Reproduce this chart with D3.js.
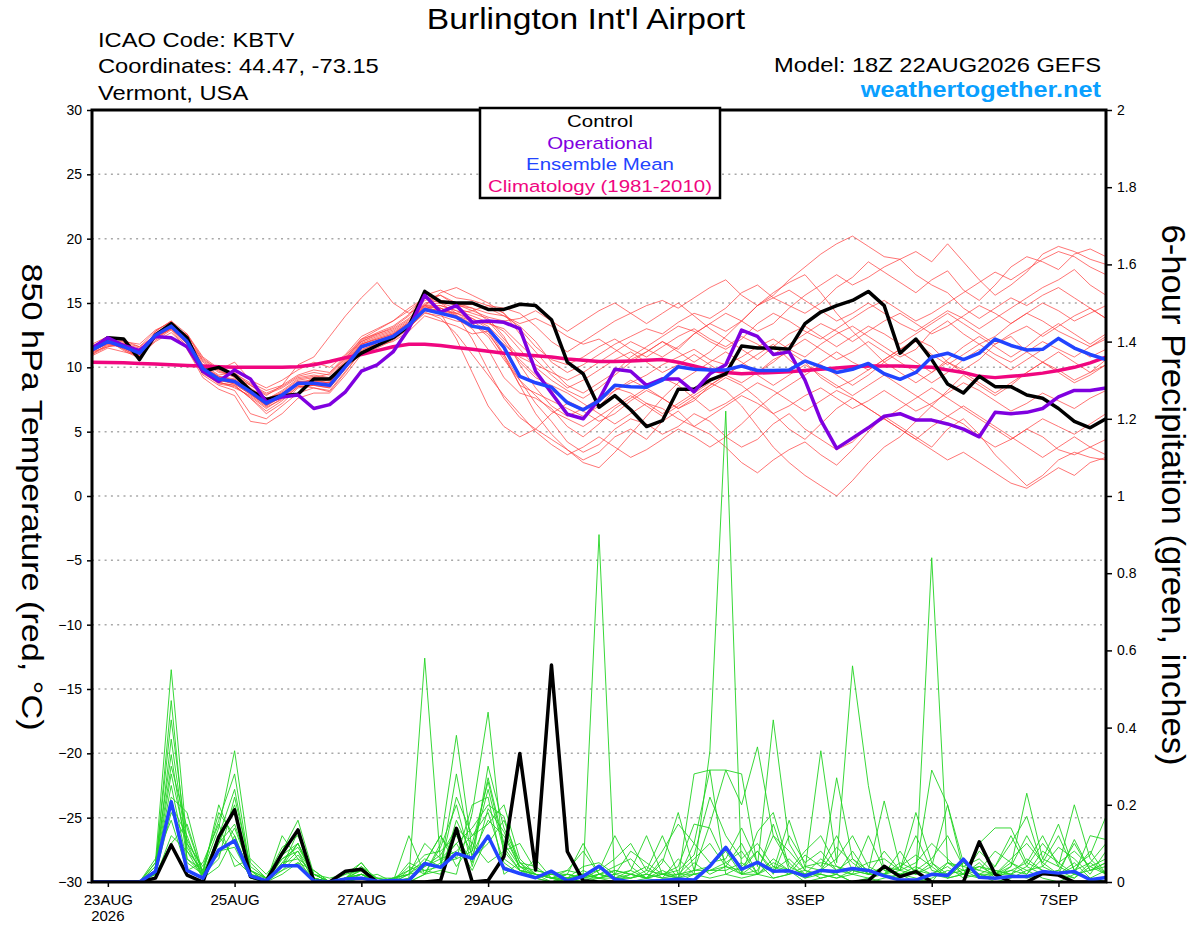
<!DOCTYPE html>
<html>
<head>
<meta charset="utf-8">
<script src="https://cdn.jsdelivr.net/npm/d3@7"></script>
<style>
body { margin: 0; background: #fff; }
text { font-family: "Liberation Sans", Arial, Helvetica, sans-serif; }
</style>
</head>
<body>
<div id="chart"></div>
<script>
var width = 1200;
var height = 927;

// run start: 18Z 22AUG2026, 6-hourly steps
var runStart = Date.UTC(2026, 7, 22, 18);
var stepHours = 6;

var dateTicks = ["2026-08-23", "2026-08-25", "2026-08-27", "2026-08-29", "2026-09-01", "2026-09-03", "2026-09-05", "2026-09-07"];
var tempTicks = [30, 25, 20, 15, 10, 5, 0, -5, -10, -15, -20, -25, -30];
var tempGrid = [25, 20, 15, 10, 5, 0, -5, -10, -15, -20, -25];
var precipTicks = [0, 0.2, 0.4, 0.6, 0.8, 1, 1.2, 1.4, 1.6, 1.8, 2];

var legendNames = ["Control", "Operational", "Ensemble Mean", "Climatology (1981-2010)"];

// 850 hPa temperature (C)
var tempControl = [11.4, 12.3, 12.2, 10.6, 12.5, 13.4, 12.3, 9.7, 10.0, 9.4,
    8.2, 7.5, 7.8, 7.9, 9.1, 9.1, 10.2, 11.1, 11.7, 12.3,
    13.2, 15.9, 15.1, 15.0, 15.0, 14.5, 14.5, 14.9, 14.8, 13.7,
    10.4, 9.5, 6.9, 7.8, 6.7, 5.4, 5.85, 8.3, 8.3, 9.0,
    9.5, 11.65, 11.5, 11.5, 11.4, 13.4, 14.3, 14.8, 15.2, 15.9,
    14.8, 11.1, 12.2, 10.6, 8.7, 8.0, 9.3, 8.5, 8.5, 7.85,
    7.6, 6.8, 5.8, 5.3, 6.0];

var tempOper = [11.5, 12.3, 11.7, 11.3, 12.4, 12.3, 11.6, 9.7, 8.9, 9.8,
    9.1, 7.3, 7.7, 7.85, 6.8, 7.1, 8.1, 9.7, 10.2, 11.2,
    13.0, 15.6, 14.3, 14.8, 13.5, 13.6, 13.5, 13.0, 9.7, 8.0,
    6.35, 6.0, 7.5, 9.85, 9.7, 8.6, 9.1, 9.1, 8.1, 9.5,
    10.2, 12.9, 12.4, 11.0, 11.2, 9.0, 5.9, 3.7, 4.5, 5.3,
    6.2, 6.4, 5.9, 5.9, 5.6, 5.2, 4.6, 6.5, 6.4, 6.5,
    6.8, 7.7, 8.2, 8.2, 8.4];

var tempMean = [11.35, 12.0, 11.6, 11.1, 12.5, 13.2, 12.0, 9.9, 9.1, 8.9,
    8.1, 7.2, 7.85, 8.76, 8.76, 8.6, 10.05, 11.6, 12.0, 12.4,
    13.3, 14.5, 14.2, 13.9, 13.2, 13.0, 11.55, 9.3, 8.8, 8.45,
    7.25, 6.7, 7.4, 8.6, 8.5, 8.45, 9.0, 10.05, 9.85, 9.8,
    9.8, 10.1, 9.75, 9.75, 9.8, 10.5, 10.05, 9.6, 9.85, 10.3,
    9.5, 9.07, 9.6, 10.8, 11.1, 10.6, 11.1, 12.2, 11.7, 11.35,
    11.4, 12.25, 11.5, 11.0, 10.6];

var tempClim = [10.4, 10.38, 10.35, 10.3, 10.25, 10.2, 10.15, 10.1, 10.05, 10.0,
    10.0, 10.0, 10.0, 10.05, 10.2, 10.45, 10.75, 11.0, 11.3, 11.6,
    11.8, 11.8, 11.7, 11.55, 11.4, 11.25, 11.1, 11.0, 10.9, 10.8,
    10.65, 10.55, 10.45, 10.45, 10.5, 10.55, 10.6, 10.4, 10.1, 9.8,
    9.6, 9.5, 9.55, 9.6, 9.65, 9.75, 9.85, 9.95, 10.05, 10.1,
    10.1, 10.1, 10.05, 10.0, 9.8, 9.6, 9.3, 9.2, 9.3, 9.4,
    9.55, 9.75, 10.0, 10.35, 10.8];

var tempMembers = [
  [11.0, 11.8, 11.9, 11.3, 12.6, 13.4, 12.3, 10.4, 9.6, 9.4,
   8.4, 7.6, 8.0, 8.6, 9.2, 9.5, 10.8, 12.0, 12.6, 13.0,
   13.8, 15.2, 15.6, 15.0, 14.6, 14.2, 14.0, 13.2, 12.0, 10.4,
   9.6, 10.2, 11.0, 11.8, 12.4, 13.0, 12.6, 13.5, 14.2, 13.8,
   14.6, 15.8, 16.4, 15.4, 14.8, 14.2, 15.0, 16.2, 17.0, 18.2,
   17.4, 16.6, 15.8, 16.8, 17.5, 16.0, 15.2, 16.4, 17.8, 18.6,
   18.2, 17.6, 18.8, 19.2, 18.6],
  [11.6, 12.3, 11.4, 10.8, 12.1, 12.9, 11.4, 9.2, 8.3, 7.8,
   5.8, 5.6, 6.4, 7.6, 8.0, 8.0, 9.4, 11.0, 11.5, 12.1,
   13.0, 14.4, 14.6, 14.1, 12.2, 9.8, 7.6, 6.1, 5.2, 4.4,
   3.6, 2.8, 3.4, 4.6, 5.2, 4.4, 5.8, 6.6, 5.4, 4.8,
   3.8, 2.6, 1.8, 2.8, 3.6, 4.2, 3.2, 2.4, 3.6, 5.0,
   6.2, 5.4, 4.6, 3.8, 5.2, 6.0, 4.8, 3.2, 2.0, 0.8,
   1.6, 2.8, 3.4, 3.0, 2.8],
  [11.2, 11.6, 11.8, 11.5, 12.2, 13.0, 12.6, 10.8, 9.9, 9.5,
   8.8, 8.2, 8.6, 9.4, 9.8, 9.6, 10.9, 12.2, 12.9, 13.6,
   14.4, 15.4, 15.2, 14.8, 14.9, 14.6, 14.0, 13.4, 13.8, 13.2,
   12.4, 11.8, 12.2, 11.4, 10.6, 11.2, 12.0, 11.4, 12.6, 13.4,
   12.8, 13.6, 14.8, 15.6, 16.8, 17.8, 18.8, 19.6, 20.2, 19.4,
   18.6, 18.4, 17.2, 16.4, 15.8, 14.6, 13.8, 14.6, 15.4, 14.8,
   15.6, 16.2, 15.4, 14.6, 13.8],
  [11.8, 12.4, 11.7, 10.6, 12.8, 13.6, 12.1, 9.6, 8.7, 8.5,
   7.7, 6.8, 7.6, 8.6, 8.4, 8.2, 9.7, 11.2, 11.7, 12.0,
   12.8, 14.0, 13.6, 13.2, 12.6, 12.8, 10.8, 8.6, 8.0, 7.4,
   6.8, 6.2, 7.0, 8.2, 8.8, 9.4, 10.2, 10.8, 11.4, 10.6,
   10.2, 10.8, 11.6, 12.2, 11.4, 10.8, 11.8, 12.6, 13.2, 12.4,
   11.6, 10.8, 11.4, 12.8, 13.6, 12.6, 11.8, 12.4, 13.4, 14.2,
   13.6, 12.8, 12.2, 11.6, 12.4],
  [11.4, 11.9, 11.5, 11.0, 12.4, 13.1, 11.8, 9.8, 9.0, 8.8,
   8.0, 7.0, 7.8, 8.9, 8.9, 8.8, 10.2, 11.8, 12.2, 12.6,
   13.5, 14.8, 14.2, 12.2, 9.6, 7.0, 5.4, 4.6, 5.2, 6.4,
   7.2, 6.6, 5.8, 6.4, 7.4, 8.2, 7.6, 6.8, 7.4, 8.6,
   9.4, 8.8, 9.6, 10.6, 11.2, 10.4, 9.2, 8.4, 9.0, 9.8,
   10.6, 11.4, 12.2, 11.6, 10.4, 9.8, 10.6, 11.8, 12.4, 11.2,
   10.4, 9.6, 8.8, 9.4, 10.2],
  [11.3, 12.1, 12.0, 11.8, 12.9, 13.5, 12.4, 10.2, 9.4, 9.6,
   8.6, 7.8, 8.6, 10.2, 10.8, 12.4, 14.0, 15.4, 16.6, 15.0,
   14.2, 14.8, 15.8, 16.2, 15.6, 15.0, 14.2, 12.6, 11.2, 9.8,
   8.6, 8.0, 8.8, 9.6, 10.8, 11.6, 12.4, 13.2, 12.8, 12.0,
   11.4, 12.2, 13.4, 14.2, 13.6, 12.8, 12.2, 13.0, 13.8, 14.6,
   15.2, 14.4, 13.6, 14.2, 15.0, 15.8, 16.6, 17.4, 16.8, 17.6,
   18.4, 19.0, 18.6, 17.8, 17.2],
  [10.9, 11.5, 11.2, 10.9, 12.0, 12.7, 11.5, 9.4, 8.6, 8.2,
   6.4, 6.0, 7.0, 8.0, 8.4, 8.1, 9.6, 11.3, 11.9, 12.3,
   13.1, 14.2, 14.0, 13.6, 13.4, 12.6, 11.0, 9.0, 7.2, 5.8,
   4.2, 3.4, 4.0, 5.2, 6.0, 5.6, 4.8, 5.4, 6.4, 5.8,
   4.6, 3.8, 4.4, 5.6, 6.4, 5.2, 4.4, 3.6, 4.2, 5.4,
   6.0, 5.2, 4.4, 5.4, 6.2, 5.6, 4.6, 3.8, 4.4, 5.2,
   4.6, 3.6, 3.2, 3.8, 4.4],
  [11.5, 12.2, 11.8, 11.2, 12.7, 13.3, 12.2, 10.0, 9.2, 9.0,
   8.2, 7.4, 8.1, 9.0, 9.2, 8.9, 10.4, 11.9, 12.4, 12.8,
   13.6, 14.9, 15.0, 14.6, 14.2, 13.8, 12.4, 10.2, 8.4, 7.0,
   6.2, 6.8, 7.6, 8.4, 8.0, 7.2, 6.4, 7.2, 8.0, 8.8,
   8.2, 7.0, 5.4, 3.8, 2.6, 1.6, 0.8, 0.0, 1.2, 2.6,
   3.8, 4.6, 5.8, 7.0, 8.2, 9.4, 8.6, 7.8, 8.6, 9.6,
   10.4, 9.8, 9.0, 9.6, 10.6],
  [11.1, 11.7, 11.6, 11.4, 12.3, 13.0, 12.2, 10.6, 9.8, 9.2,
   8.6, 7.9, 8.4, 9.2, 9.4, 9.2, 10.6, 12.1, 12.7, 13.2,
   14.1, 15.6, 16.0, 15.4, 15.2, 14.8, 14.6, 14.2, 13.2, 12.0,
   11.2, 12.0, 12.8, 13.6, 14.2, 14.8, 15.2, 14.6, 15.4, 16.2,
   16.8, 15.6, 14.8, 15.4, 16.0, 15.2, 14.4, 13.6, 14.2, 15.0,
   14.2, 13.4, 12.8, 13.6, 14.4, 13.8, 13.0, 13.8, 14.6, 15.4,
   16.2, 16.8, 17.6, 16.4, 15.6],
  [11.7, 12.1, 11.3, 10.7, 12.3, 13.0, 11.6, 9.5, 8.8, 8.6,
   7.6, 6.4, 7.2, 8.4, 8.6, 8.4, 9.9, 11.4, 11.8, 12.2,
   13.2, 14.4, 14.2, 13.8, 13.0, 11.4, 9.2, 8.0, 7.6, 6.8,
   5.4, 4.6, 5.6, 6.8, 7.6, 8.4, 9.2, 8.6, 7.6, 6.6,
   7.2, 8.0, 8.8, 8.2, 7.4, 6.6, 7.4, 8.2, 7.6, 6.8,
   6.0, 5.2, 4.4, 3.6, 2.8, 3.4, 2.6, 1.8, 1.0, 0.6,
   1.4, 2.2, 1.6, 2.6, 3.0],
  [11.0, 11.6, 11.9, 11.6, 12.5, 13.2, 12.5, 10.7, 9.8, 10.4,
   9.0, 8.4, 9.0, 9.8, 10.4, 10.0, 11.0, 12.4, 13.0, 13.6,
   14.6, 15.4, 15.0, 14.2, 14.4, 14.8, 14.2, 13.0, 11.6, 10.6,
   10.2, 10.8, 11.6, 12.2, 11.4, 10.8, 11.6, 12.4, 13.0, 12.2,
   11.6, 12.4, 11.8, 11.0, 11.8, 12.6, 13.4, 12.8, 12.0, 12.8,
   13.6, 14.2, 13.4, 12.6, 13.2, 14.0, 14.8, 14.2, 13.4, 14.2,
   15.0, 14.4, 13.6, 14.2, 14.8],
  [11.4, 12.0, 11.4, 10.8, 12.4, 13.0, 11.8, 9.7, 8.9, 8.4,
   7.8, 6.9, 7.5, 8.5, 8.6, 8.5, 10.0, 11.5, 12.1, 12.5,
   13.4, 14.6, 14.8, 14.4, 13.8, 13.2, 12.0, 10.4, 9.2, 8.6,
   8.0, 7.2, 6.4, 5.6, 6.4, 7.2, 6.8, 6.0, 5.4, 6.2,
   7.0, 7.8, 7.2, 6.4, 7.0, 7.8, 8.4, 7.6, 6.8, 7.4,
   8.2, 7.4, 6.6, 7.2, 8.0, 8.8, 8.2, 7.4, 6.6, 7.2,
   8.0, 7.4, 6.8, 7.6, 8.2],
  [11.2, 11.9, 12.1, 11.6, 12.8, 13.6, 12.6, 10.5, 9.7, 9.3,
   8.7, 8.0, 8.5, 9.3, 9.6, 9.4, 10.7, 12.2, 12.6, 13.1,
   14.0, 15.4, 15.6, 14.8, 14.6, 13.6, 12.2, 10.8, 10.2, 9.6,
   9.0, 9.6, 10.4, 11.2, 12.0, 11.4, 10.8, 11.6, 12.6, 13.4,
   14.2, 13.6, 12.8, 13.4, 14.6, 15.6, 16.4, 17.2, 16.4, 17.0,
   17.8, 18.4, 19.0, 18.2, 19.6, 18.2, 16.8, 15.6, 16.4, 17.4,
   18.8, 19.4, 19.0, 18.4, 18.0],
  [11.6, 12.2, 11.5, 11.0, 12.6, 13.4, 11.9, 9.8, 9.1, 8.7,
   7.9, 7.1, 7.7, 8.7, 8.7, 8.7, 10.1, 11.7, 12.0, 12.4,
   13.2, 14.6, 14.4, 14.0, 13.6, 13.4, 13.0, 11.8, 10.6, 9.4,
   8.4, 9.0, 9.8, 10.6, 11.2, 10.4, 9.6, 10.2, 11.0, 10.2,
   9.4, 10.2, 11.0, 11.8, 10.6, 9.6, 10.4, 11.2, 10.4, 9.8,
   10.6, 11.4, 12.0, 11.0, 10.2, 11.0, 11.8, 11.0, 10.4, 11.2,
   12.0, 11.4, 10.8, 11.6, 12.2],
  [11.3, 11.8, 11.6, 11.2, 12.4, 13.2, 12.0, 10.0, 9.3, 9.0,
   8.2, 7.3, 7.9, 8.8, 8.9, 8.8, 10.3, 11.8, 12.2, 12.6,
   13.4, 14.8, 14.6, 14.2, 13.8, 13.0, 11.0, 8.6, 6.4, 4.8,
   3.6, 2.6, 2.2, 3.4, 4.8, 6.2, 7.6, 8.8, 9.6, 10.4,
   11.2, 10.4, 9.6, 10.4, 11.4, 12.2, 11.4, 10.6, 11.2, 12.0,
   11.2, 10.4, 9.6, 8.8, 9.6, 10.6, 11.4, 10.6, 9.8, 10.6,
   11.4, 12.2, 11.6, 10.8, 11.4],
  [11.5, 12.0, 11.5, 10.9, 12.5, 13.1, 11.8, 9.9, 9.0, 8.8,
   8.0, 7.1, 7.8, 8.8, 8.8, 8.6, 10.1, 11.6, 12.0, 12.4,
   13.3, 14.6, 14.4, 14.2, 13.6, 12.8, 11.8, 10.6, 9.4, 8.2,
   7.4, 6.8, 7.4, 8.2, 9.0, 8.4, 7.6, 6.8, 7.6, 8.4,
   9.2, 8.6, 7.6, 6.4, 5.2, 4.4, 5.6, 6.8, 7.6, 6.8,
   6.0, 6.8, 7.6, 8.4, 7.6, 6.8, 6.0, 5.2, 4.4, 5.2,
   6.0, 5.4, 4.8, 5.6, 6.4],
  [11.2, 11.9, 11.7, 11.2, 12.5, 13.3, 12.1, 10.1, 9.3, 9.1,
   8.3, 7.5, 8.2, 9.1, 9.3, 9.1, 10.5, 12.0, 12.5, 12.9,
   13.7, 15.0, 15.2, 14.9, 14.4, 13.9, 13.6, 13.8, 14.4, 13.6,
   12.8, 13.6, 14.4, 15.0, 14.2, 13.4, 14.2, 15.0, 14.0, 13.0,
   12.2, 11.4, 10.6, 11.6, 12.6, 13.2, 12.4, 11.6, 12.4, 13.2,
   12.6, 11.8, 12.6, 13.4, 14.2, 13.4, 12.6, 11.8, 12.6, 13.2,
   12.4, 13.2, 14.0, 14.6, 13.8],
  [11.6, 12.1, 11.6, 11.0, 12.6, 13.3, 11.9, 9.6, 8.8, 8.6,
   7.6, 6.6, 7.4, 8.5, 8.6, 8.4, 9.9, 11.5, 12.0, 12.3,
   13.1, 14.3, 13.8, 12.6, 11.0, 9.4, 7.8, 6.4, 5.0, 4.0,
   3.2, 3.8, 4.6, 3.8, 3.0, 3.6, 4.4, 5.2, 4.6, 3.8,
   4.6, 5.6, 6.8, 7.8, 8.6, 9.4, 10.2, 9.4, 8.6, 9.4,
   10.4, 11.2, 10.4, 9.6, 10.6, 11.6, 12.4, 11.6, 10.8, 11.6,
   12.6, 13.4, 12.6, 11.8, 12.6],
  [11.3, 12.0, 11.8, 11.3, 12.6, 13.3, 12.2, 10.1, 9.2, 9.0,
   8.2, 7.3, 8.0, 8.9, 9.0, 8.8, 10.3, 11.8, 12.3, 12.7,
   13.5, 14.8, 14.8, 14.4, 14.0, 13.5, 12.8, 11.4, 10.0, 9.0,
   8.2, 7.6, 8.4, 9.4, 10.4, 11.2, 12.0, 11.2, 10.4, 11.2,
   12.4, 13.6, 14.8, 15.8, 16.6, 17.2, 15.8, 14.2, 12.8, 11.6,
   10.4, 9.6, 8.8, 9.6, 10.4, 9.6, 8.8, 8.0, 8.8, 9.6,
   10.4, 11.2, 10.4, 9.6, 10.2],
  [11.4, 12.1, 11.6, 11.0, 12.4, 13.1, 11.9, 9.8, 9.0, 8.7,
   7.9, 7.0, 7.7, 8.7, 8.8, 8.6, 10.1, 11.6, 12.1, 12.5,
   13.4, 14.7, 14.6, 14.0, 13.4, 12.4, 10.6, 9.0, 7.8, 6.6,
   6.0, 5.4, 6.2, 7.0, 7.8, 7.0, 6.2, 7.0, 7.8, 8.6,
   9.4, 10.2, 9.4, 8.6, 9.4, 10.2, 9.4, 8.6, 7.8, 8.6,
   9.4, 8.6, 7.8, 7.0, 6.2, 7.0, 6.2, 5.4, 4.6, 3.8,
   3.0, 3.8, 4.6, 3.8, 3.2]
];

// 6-hour precipitation (inches)
var precipControl = [0, 0, 0, 0, 0.01, 0.096, 0.018, 0, 0.117, 0.187,
    0.014, 0.002, 0.074, 0.135, 0.002, 0, 0.028, 0.033, 0, 0,
    0, 0, 0.004, 0.139, 0, 0.004, 0.066, 0.333, 0.031, 0.562,
    0.079, 0.003, 0, 0, 0, 0, 0, 0, 0, 0,
    0, 0, 0, 0, 0, 0, 0, 0, 0, 0.003,
    0.041, 0.014, 0.027, 0, 0, 0, 0.104, 0.02, 0, 0,
    0.022, 0.018, 0, 0, 0];

var precipMean = [0, 0, 0, 0, 0.027, 0.208, 0.03, 0.01, 0.083, 0.107,
    0.016, 0.003, 0.042, 0.042, 0.003, 0, 0.008, 0.01, 0.002, 0.004,
    0.004, 0.048, 0.038, 0.074, 0.061, 0.119, 0.035, 0.022, 0.011, 0.028,
    0.003, 0.015, 0.041, 0.007, 0, 0.002, 0.004, 0.007, 0.005, 0.041,
    0.09, 0.033, 0.051, 0.028, 0.029, 0.016, 0.03, 0.027, 0.035, 0.03,
    0.016, 0.005, 0.005, 0.02, 0.017, 0.059, 0.012, 0.01, 0.014, 0.014,
    0.027, 0.023, 0.027, 0.006, 0.012];

var precipMembers = [
  [0, 0, 0, 0, 0.05, 0.55, 0.1, 0.01, 0.12, 0.18,
   0.02, 0, 0.04, 0.1, 0.01, 0, 0.02, 0.03, 0, 0,
   0.01, 0.58, 0.05, 0.1, 0.03, 0.12, 0.04, 0.02, 0.06, 0.01,
   0, 0.02, 0.9, 0, 0, 0.01, 0, 0, 0.02, 0.01,
   0.02, 0.01, 0.02, 0.05, 0.03, 0, 0.01, 0.02, 0, 0.01,
   0, 0, 0, 0.02, 0.01, 0.05, 0.02, 0, 0.01, 0.03,
   0.01, 0, 0.02, 0.01, 0],
  [0, 0, 0, 0, 0.03, 0.47, 0.06, 0.02, 0.2, 0.1,
   0.01, 0, 0.06, 0.08, 0, 0, 0.01, 0.05, 0, 0,
   0.12, 0.02, 0.03, 0.02, 0.18, 0.44, 0.06, 0.03, 0.02, 0,
   0.01, 0, 0.02, 0.01, 0.02, 0.04, 0.01, 0.06, 0.02, 0.34,
   1.22, 0.02, 0.05, 0.01, 0.02, 0.03, 0.01, 0.02, 0, 0,
   0.01, 0.02, 0, 0.01, 0.03, 0.02, 0.1, 0.14, 0.14, 0.05,
   0.03, 0.02, 0.01, 0.04, 0.02],
  [0, 0, 0, 0, 0.02, 0.37, 0.08, 0.03, 0.14, 0.34,
   0.05, 0.01, 0.08, 0.16, 0.02, 0, 0, 0.01, 0.02, 0,
   0, 0.02, 0.1, 0.38, 0.08, 0.27, 0.1, 0.04, 0.03, 0.02,
   0.01, 0.02, 0.01, 0, 0.02, 0.01, 0.02, 0.01, 0.1, 0.29,
   0.29, 0.28, 0.04, 0.42, 0.1, 0.03, 0.02, 0.01, 0.02, 0.01,
   0.02, 0.01, 0.03, 0.29, 0.2, 0.03, 0.01, 0.02, 0.04, 0.12,
   0.05, 0.02, 0.11, 0.03, 0.05],
  [0, 0, 0, 0, 0.04, 0.3, 0.14, 0.02, 0.1, 0.15,
   0.03, 0, 0.05, 0.06, 0, 0, 0.01, 0.02, 0, 0.01,
   0.03, 0.07, 0.08, 0.12, 0.05, 0.3, 0.14, 0.05, 0.01, 0.02,
   0.03, 0.02, 0.03, 0.12, 0.04, 0.01, 0.05, 0.18, 0.03, 0.15,
   0.29, 0.2, 0.35, 0.12, 0.08, 0.03, 0.34, 0.05, 0.56, 0.25,
   0.03, 0.02, 0.01, 0, 0.05, 0.03, 0.02, 0.01, 0.04, 0.23,
   0.06, 0.04, 0.2, 0.06, 0.02],
  [0, 0, 0, 0, 0.03, 0.25, 0.05, 0.02, 0.06, 0.22,
   0.04, 0.01, 0.03, 0.07, 0.01, 0, 0.01, 0.04, 0.01, 0.01,
   0.02, 0.05, 0.12, 0.06, 0.2, 0.22, 0.02, 0.05, 0.04, 0.01,
   0.02, 0.01, 0.01, 0.02, 0.01, 0.03, 0.12, 0.02, 0.03, 0.03,
   0.05, 0.08, 0.02, 0.15, 0.03, 0.02, 0.02, 0.27, 0.06, 0.03,
   0.21, 0.04, 0.02, 0.05, 0.02, 0.03, 0.04, 0.02, 0.06, 0.1,
   0.05, 0.12, 0.03, 0.08, 0.02],
  [0, 0, 0, 0, 0.02, 0.2, 0.12, 0.01, 0.04, 0.12,
   0.02, 0, 0.12, 0.06, 0.03, 0, 0, 0.02, 0, 0,
   0.02, 0.03, 0.04, 0.22, 0.12, 0.15, 0.2, 0.06, 0.02, 0.01,
   0, 0.03, 0.01, 0.01, 0.01, 0.02, 0.01, 0.01, 0.05, 0.02,
   0.04, 0.02, 0.02, 0.06, 0.03, 0.01, 0.03, 0.02, 0.08, 0.02,
   0.02, 0.03, 0.02, 0.84, 0.05, 0.02, 0.01, 0.03, 0.02, 0.04,
   0.02, 0.03, 0.01, 0.05, 0.02],
  [0, 0, 0, 0, 0.06, 0.16, 0.03, 0.05, 0.15, 0.04,
   0.06, 0.02, 0.07, 0.1, 0.02, 0.01, 0.02, 0.05, 0, 0.01,
   0, 0.04, 0.06, 0.1, 0.14, 0.2, 0.17, 0.03, 0.01, 0,
   0.01, 0, 0.01, 0.02, 0.03, 0.01, 0.03, 0.01, 0.02, 0.03,
   0.04, 0.1, 0.02, 0.01, 0.02, 0.04, 0.05, 0.04, 0.02, 0.03,
   0.02, 0.08, 0.02, 0.04, 0.01, 0.02, 0.04, 0.03, 0.02, 0.01,
   0.02, 0.03, 0.1, 0.03, 0.04],
  [0, 0, 0, 0, 0.01, 0.12, 0.08, 0.01, 0.08, 0.09,
   0.01, 0, 0.02, 0.05, 0.03, 0, 0, 0.04, 0, 0,
   0.05, 0.03, 0.02, 0.16, 0.07, 0.16, 0.12, 0.04, 0.02, 0.01,
   0.03, 0.08, 0.02, 0.03, 0.02, 0.01, 0.06, 0.01, 0.28, 0.29,
   0.02, 0.04, 0.08, 0.03, 0.06, 0.02, 0.06, 0.03, 0.06, 0.02,
   0.02, 0.04, 0.07, 0.04, 0.2, 0.05, 0.03, 0.02, 0.05, 0.02,
   0.06, 0.15, 0.03, 0.05, 0.1],
  [0, 0, 0, 0, 0.02, 0.1, 0.15, 0.02, 0.12, 0.06,
   0.02, 0, 0.04, 0.13, 0.01, 0, 0, 0.01, 0.01, 0,
   0.03, 0.05, 0.12, 0.04, 0.1, 0.05, 0.08, 0.1, 0.03, 0.02,
   0.02, 0.1, 0.02, 0.01, 0.03, 0.12, 0.02, 0.04, 0.15, 0.14,
   0.05, 0.02, 0.13, 0.18, 0.04, 0.02, 0.03, 0.09, 0.05, 0.02,
   0.04, 0.03, 0.12, 0.03, 0.02, 0.05, 0.02, 0.04, 0.1, 0.17,
   0.04, 0.02, 0.05, 0.01, 0.03],
  [0, 0, 0, 0, 0.04, 0.42, 0.1, 0.04, 0.16, 0.28,
   0.03, 0.01, 0.09, 0.12, 0.02, 0, 0.01, 0.02, 0, 0.01,
   0.02, 0.06, 0.04, 0.28, 0.06, 0.1, 0.16, 0.05, 0.02, 0.01,
   0.01, 0.02, 0.01, 0.03, 0.02, 0.01, 0.02, 0.02, 0.06, 0.1,
   0.04, 0.03, 0.08, 0.02, 0.12, 0.05, 0.08, 0.03, 0.02, 0.12,
   0.03, 0.02, 0.04, 0.02, 0.05, 0.04, 0.06, 0.02, 0.02, 0.06,
   0.03, 0.02, 0.04, 0.07, 0.17],
  [0, 0, 0, 0, 0.03, 0.22, 0.18, 0.02, 0.12, 0.24,
   0.03, 0, 0.03, 0.05, 0.01, 0, 0.01, 0.02, 0, 0,
   0.02, 0.1, 0.06, 0.08, 0.12, 0.18, 0.05, 0.02, 0.01, 0,
   0.02, 0.01, 0.03, 0.06, 0.1, 0.03, 0.02, 0.01, 0.03, 0.04,
   0.08, 0.02, 0.03, 0.12, 0.05, 0.01, 0.02, 0.01, 0.03, 0.02,
   0.08, 0.03, 0.18, 0.05, 0.01, 0.02, 0.05, 0.01, 0.03, 0.02,
   0.08, 0.05, 0.02, 0.12, 0.11],
  [0, 0, 0, 0, 0.05, 0.33, 0.06, 0.03, 0.18, 0.12,
   0.02, 0.01, 0.06, 0.09, 0.02, 0, 0.01, 0.03, 0.01, 0,
   0, 0.02, 0.05, 0.06, 0.08, 0.24, 0.08, 0.03, 0.02, 0.01,
   0.01, 0.01, 0.02, 0.01, 0.01, 0.02, 0.01, 0.02, 0.02, 0.03,
   0.03, 0.05, 0.02, 0.04, 0.03, 0.08, 0.12, 0.04, 0.03, 0.02,
   0.04, 0.02, 0.03, 0.02, 0.04, 0.01, 0.02, 0.02, 0.03, 0.05,
   0.12, 0.04, 0.02, 0.03, 0.05],
  [0, 0, 0, 0, 0.03, 0.28, 0.09, 0.02, 0.1, 0.2,
   0.02, 0, 0.05, 0.1, 0.01, 0, 0.01, 0.03, 0, 0,
   0.01, 0.04, 0.07, 0.14, 0.1, 0.26, 0.09, 0.03, 0.02, 0.01,
   0.02, 0.01, 0.02, 0.04, 0.06, 0.02, 0.08, 0.15, 0.1, 0.05,
   0.06, 0.14, 0.05, 0.03, 0.16, 0.04, 0.03, 0.06, 0.12, 0.04,
   0.02, 0.05, 0.03, 0.06, 0.12, 0.04, 0.03, 0.08, 0.05, 0.03,
   0.04, 0.09, 0.06, 0.02, 0.08],
  [0, 0, 0, 0, 0.02, 0.18, 0.11, 0.03, 0.07, 0.14,
   0.03, 0.01, 0.04, 0.08, 0.02, 0, 0.01, 0.02, 0.01, 0,
   0.04, 0.02, 0.09, 0.2, 0.04, 0.19, 0.13, 0.04, 0.01, 0.02,
   0.01, 0.04, 0.05, 0.02, 0.08, 0.05, 0.02, 0.03, 0.07, 0.22,
   0.12, 0.06, 0.1, 0.04, 0.02, 0.07, 0.04, 0.12, 0.03, 0.05,
   0.06, 0.03, 0.05, 0.1, 0.06, 0.02, 0.08, 0.04, 0.12, 0.04,
   0.1, 0.05, 0.08, 0.04, 0.06]
];

var plotLeft = 92, plotRight = 1106, plotTop = 110, plotBottom = 882;

var svg = d3.select("#chart")
    .append("svg")
    .attr("width", width)
    .attr("height", height);

svg.append("rect").attr("width", width).attr("height", height).attr("fill", "#fff");

function stepTime(i) {
    return new Date(runStart + i * stepHours * 3600 * 1000);
}

var x = d3.scaleUtc()
    .domain([stepTime(0), stepTime(tempMean.length - 1)])
    .range([plotLeft, plotRight]);
var yT = d3.scaleLinear().domain([-30, 30]).range([plotBottom, plotTop]);
var yP = d3.scaleLinear().domain([0, 2]).range([plotBottom, plotTop]);

// text with a little horizontal stretch, the original font is wider than Arial
function addText(px, py, str, size, opts) {
    opts = opts || {};
    var tr = "translate(" + px + "," + py + ")";
    if (opts.rotate) tr += " rotate(" + opts.rotate + ")";
    if (opts.sx) tr += " scale(" + opts.sx + ",1)";
    return svg.append("text")
        .attr("transform", tr)
        .attr("text-anchor", opts.anchor || "start")
        .attr("font-size", size)
        .attr("font-weight", opts.weight || "normal")
        .attr("fill", opts.fill || "#000")
        .text(str);
}

// headers
addText(586, 29, "Burlington Int'l Airport", 30, {anchor: "middle", sx: 1.12});
addText(98, 47, "ICAO Code: KBTV", 21, {sx: 1.13});
addText(98, 73, "Coordinates: 44.47, -73.15", 21, {sx: 1.13});
addText(98, 100, "Vermont, USA", 21, {sx: 1.13});
addText(1101, 72, "Model: 18Z 22AUG2026 GEFS", 21, {anchor: "end", sx: 1.13});
addText(1101, 97, "weathertogether.net", 22, {anchor: "end", sx: 1.15, weight: "bold", fill: "#0aa0ff"});

// axis titles
addText(22, 497, "850 hPa Temperature (red, \u00B0C)", 30, {anchor: "middle", rotate: 90, sx: 1.14});
addText(1162, 495, "6-hour Precipitation (green, inches)", 33, {anchor: "middle", rotate: 90, sx: 1.05});

// dotted grid
svg.append("g").selectAll("line")
    .data(tempGrid)
    .enter().append("line")
    .attr("x1", plotLeft).attr("x2", plotRight)
    .attr("y1", function(d) { return yT(d); })
    .attr("y2", function(d) { return yT(d); })
    .attr("stroke", "#a8a8a8")
    .attr("stroke-width", 1.5)
    .attr("stroke-dasharray", "2,4.3");

svg.append("clipPath").attr("id", "plotClip")
    .append("rect")
    .attr("x", plotLeft).attr("y", plotTop)
    .attr("width", plotRight - plotLeft).attr("height", plotBottom - plotTop);

var plot = svg.append("g").attr("clip-path", "url(#plotClip)");

var tempLine = d3.line()
    .x(function(d, i) { return x(stepTime(i)); })
    .y(function(d) { return yT(d); });
var precipLine = d3.line()
    .x(function(d, i) { return x(stepTime(i)); })
    .y(function(d) { return yP(d); });

// members
plot.append("g").selectAll("path")
    .data(tempMembers)
    .enter().append("path")
    .attr("d", tempLine)
    .attr("fill", "none")
    .attr("stroke", "#ff3b3b")
    .attr("stroke-opacity", 0.7)
    .attr("stroke-width", 1);

plot.append("g").selectAll("path")
    .data(precipMembers)
    .enter().append("path")
    .attr("d", precipLine)
    .attr("fill", "none")
    .attr("stroke", "#22d422")
    .attr("stroke-opacity", 0.9)
    .attr("stroke-width", 1);

function bold(data, lineFn, color) {
    plot.append("path")
        .datum(data)
        .attr("d", lineFn)
        .attr("fill", "none")
        .attr("stroke", color)
        .attr("stroke-width", 3.5)
        .attr("stroke-linejoin", "round");
}

bold(tempClim, tempLine, "#f0067f");
bold(tempControl, tempLine, "#000");
bold(tempOper, tempLine, "#7f00e0");
bold(tempMean, tempLine, "#2244ff");
bold(precipControl, precipLine, "#000");
bold(precipMean, precipLine, "#2244ff");

// axes
var fmtDay = d3.utcFormat("%-d%b");
var xAxis = d3.axisBottom(x)
    .tickValues(dateTicks.map(function(s) { return new Date(s + "T00:00Z"); }))
    .tickSize(5)
    .tickPadding(7)
    .tickFormat(function(d) { return fmtDay(d).toUpperCase(); });
var gx = svg.append("g").attr("transform", "translate(0," + plotBottom + ")").call(xAxis);
gx.select(".domain").remove();
gx.selectAll("text").attr("font-size", 15).attr("font-family", "Liberation Sans, Arial, sans-serif");
gx.selectAll("line").attr("stroke-width", 1.5);
addText(x(new Date(dateTicks[0] + "T00:00Z")), 921, "2026", 15, {anchor: "middle"});

var yAxisL = d3.axisLeft(yT).tickValues(tempTicks).tickSize(5).tickPadding(5);
var gl = svg.append("g").attr("transform", "translate(" + plotLeft + ",0)").call(yAxisL);
gl.select(".domain").remove();
gl.selectAll("text").attr("font-size", 14).attr("font-family", "Liberation Sans, Arial, sans-serif");
gl.selectAll("line").attr("stroke-width", 1.5);

var yAxisR = d3.axisRight(yP).tickValues(precipTicks).tickSize(6).tickPadding(5)
    .tickFormat(function(d) { return String(d); });
var gr = svg.append("g").attr("transform", "translate(" + plotRight + ",0)").call(yAxisR);
gr.select(".domain").remove();
gr.selectAll("text").attr("font-size", 14).attr("font-family", "Liberation Sans, Arial, sans-serif");
gr.selectAll("line").attr("stroke-width", 1.5);

// frame
svg.append("rect")
    .attr("x", plotLeft).attr("y", plotTop)
    .attr("width", plotRight - plotLeft).attr("height", plotBottom - plotTop)
    .attr("fill", "none")
    .attr("stroke", "#000")
    .attr("stroke-width", 3);

// legend box
var legendColors = ["#000", "#7f00e0", "#2244ff", "#f0067f"];
svg.append("rect")
    .attr("x", 480).attr("y", 108)
    .attr("width", 240).attr("height", 90)
    .attr("fill", "#fff")
    .attr("stroke", "#000")
    .attr("stroke-width", 2.5);
legendNames.forEach(function(name, k) {
    addText(600, 127 + k * 21.7, name, 16.5, {anchor: "middle", sx: 1.24, fill: legendColors[k]});
});
</script>
</body>
</html>
